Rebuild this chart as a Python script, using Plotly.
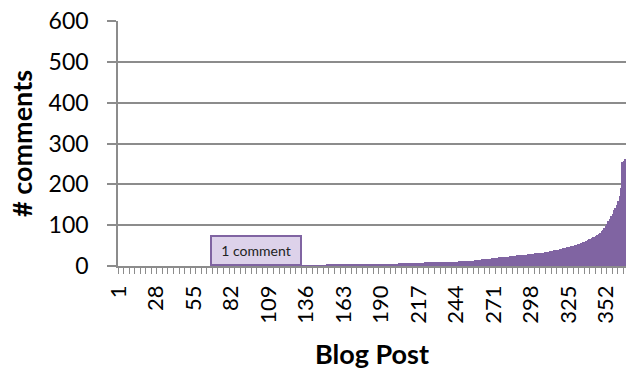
import plotly.graph_objects as go

# Comment counts per blog post, sorted from fewest to most comments
comments = [
    0, 0, 0, 0, 0, 0, 0, 0, 0, 0, 0, 0, 0, 0, 0, 0, 0, 0, 0, 0, 0, 0,
    0, 0, 0, 0, 0, 0, 0, 0, 0, 0, 0, 0, 0, 0, 0, 0, 0, 0, 0, 0, 0, 0,
    0, 0, 0, 0, 0, 0, 0, 0, 0, 0, 0, 0, 0, 0, 0, 0, 0, 0, 0, 0, 0, 0, 0,
    1, 1, 1, 1, 1, 1, 1, 1, 1, 1, 1, 1, 1, 1, 1, 1, 1, 1, 1, 1, 1, 1,
    1, 1, 1, 1, 1, 1, 1, 1, 1, 1, 1, 1, 1, 1, 1, 1, 1, 1, 1, 1, 1, 1,
    1, 1, 1, 1, 1, 1, 1, 1, 1, 1, 1, 1, 1, 1, 1, 1, 1, 1, 1, 1, 1, 1,
    2, 2, 2, 2, 2, 2, 2, 2, 2, 2, 2, 2, 2, 2, 2, 2, 2,
    3, 3, 3, 3, 3, 3, 3, 3, 3, 3, 3, 3, 3, 3, 3,
    4, 4, 4, 4, 4, 4, 4, 4, 4, 4, 4, 4, 4, 4,
    5, 5, 5, 5, 5, 5, 5, 5, 5, 5, 5, 5,
    6, 6, 6, 6, 6, 6, 6, 6, 6, 6, 6,
    7, 7, 7, 7, 7, 7, 7, 7, 7, 7,
    8, 8, 8, 8, 8, 8, 8, 8, 8,
    9, 9, 9, 9, 9, 9, 9, 9, 9,
    10, 10, 10, 10, 10, 10, 10, 10,
    11, 11, 11, 11, 11, 11, 11,
    12, 12, 12, 12, 12, 12,
    13, 13, 13, 13, 13, 13,
    14, 14, 15, 15, 15,
    16, 16, 17, 17, 18, 18, 18, 19, 19, 20,
    20, 20, 21, 21, 21, 22, 22, 22, 23, 23, 24, 24, 25,
    25, 25, 26, 26, 26, 27, 27, 28, 28, 28, 29, 29,
    30, 30, 30, 31, 31, 32, 32, 32, 33, 33, 34, 34,
    35, 35, 36, 37, 37, 38, 39, 39, 40, 41, 42, 43,
    44, 45, 46, 47, 47, 48, 49, 50, 51, 52, 53, 55,
    56, 57, 59, 60, 61, 63, 65,
    66, 68, 70, 72, 74, 76, 78,
    82, 85, 88, 92, 98,
    104, 110, 116, 122, 128,
    136, 143, 150, 160, 172, 192,
    255, 258, 262,
]

posts = list(range(1, len(comments) + 1))
post_labels = [1, 28, 55, 82, 109, 136, 163, 190, 217, 244, 271, 298, 325, 352]
y_ticks = [0, 100, 200, 300, 400, 500, 600]

BAR = "#8064a2"
GRID = "#8c8c8c"
FONT = "Lato, 'Open Sans', sans-serif"

fig = go.Figure(
    go.Bar(
        x=posts,
        y=comments,
        marker=dict(color=BAR, line=dict(width=0)),
        hoverinfo="x+y",
    )
)

fig.update_layout(
    width=626,
    height=370,
    margin=dict(l=118, r=0, t=21, b=104),
    paper_bgcolor="white",
    plot_bgcolor="white",
    bargap=0,
    showlegend=False,
    font=dict(family=FONT, color="black"),
)

fig.update_xaxes(
    range=[0.5, len(comments) + 0.5],
    tickmode="array",
    tickvals=post_labels,
    ticktext=[str(v) for v in post_labels],
    tickangle=-90,
    tickfont=dict(size=22, family=FONT, color="black"),
    ticks="",
    ticklabelstandoff=9,
    minor=dict(ticks="outside", tick0=0.5, dtick=4, ticklen=6,
               tickcolor=GRID, tickwidth=1.2, showgrid=False),
    showline=True,
    linecolor=GRID,
    linewidth=1.5,
    showgrid=False,
    zeroline=False,
    title=dict(text="<b>Blog Post</b>", font=dict(size=27, family=FONT, color="black"),
               standoff=23),
)

fig.update_yaxes(
    range=[0, 600],
    tickmode="array",
    tickvals=y_ticks,
    tickfont=dict(size=23, family=FONT, color="black"),
    ticks="outside",
    ticklen=9,
    tickcolor=GRID,
    tickwidth=1.5,
    ticklabelstandoff=14,
    showline=True,
    linecolor=GRID,
    linewidth=1.5,
    showgrid=True,
    gridcolor=GRID,
    gridwidth=1.5,
    zeroline=False,
    title=dict(text="<b># comments</b>", font=dict(size=27, family=FONT, color="black"),
               standoff=8),
)

# Callout marking the run of posts that received a single comment
fig.add_annotation(
    x=100, y=39, xref="x", yref="y",
    text="1 comment",
    showarrow=False,
    font=dict(size=14, family=FONT, color="#222222"),
    bgcolor="#ddd2ea",
    bordercolor=BAR,
    borderwidth=2,
    borderpad=5,
    width=78,
)

fig.write_html("out.html")
